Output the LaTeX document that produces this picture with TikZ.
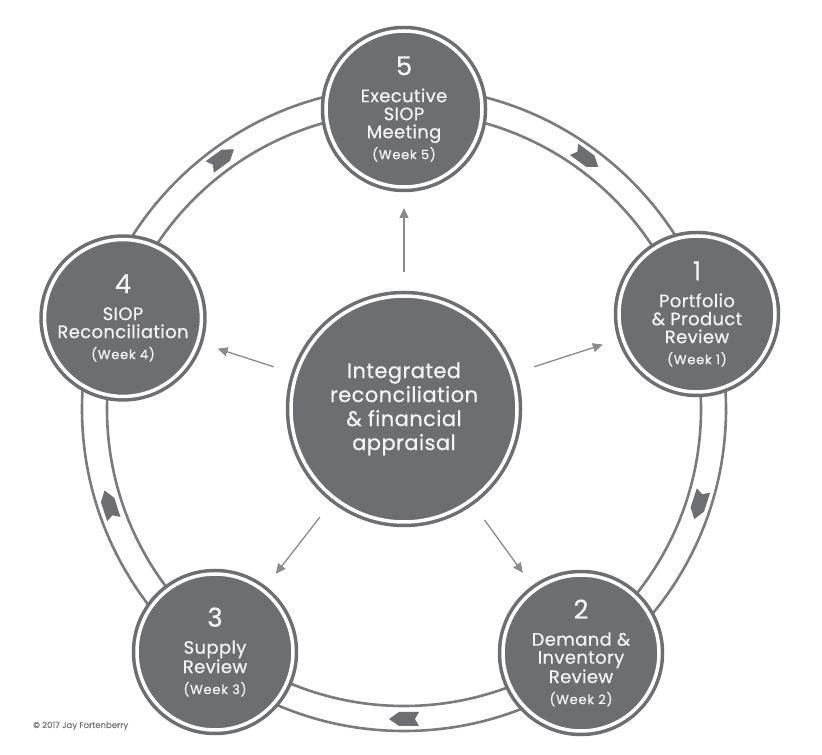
\documentclass[tikz,border=0pt]{standalone}
\usepackage{fontspec}
\setmainfont{Poppins}[FakeBold=0.6]
\usetikzlibrary{arrows.meta,calc}
\definecolor{nodegray}{HTML}{6D6E71}
\definecolor{ringgray}{HTML}{7A7B7E}
\definecolor{spokegray}{HTML}{8A8B8D}
\definecolor{textwhite}{HTML}{F4F4F4}
\definecolor{copygray}{HTML}{7A7A7A}
\tikzset{
  disk/.style={circle, fill=nodegray, draw=nodegray, line width=3.5pt, double=white,
    double distance=3.5pt, outer sep=0pt, inner sep=0pt, text=textwhite, align=center},
  stage/.style={disk, minimum size=156pt, font=\fontsize{18}{18}\selectfont\addfontfeatures{LetterSpace=2}},
  hub/.style={disk, minimum size=226pt, font=\fontsize{21}{24}\selectfont\addfontfeatures{LetterSpace=2}},
  ringline/.style={draw=ringgray, line width=2.6pt},
  spoke/.style={draw=spokegray, line width=1.3pt, -{Triangle[length=10pt,width=9pt]},
    shorten <=24pt, shorten >=21pt},
  ringarrow/.pic={\fill[nodegray] (15,0) -- (5,7) -- (-15,7) -- (-11,0) -- (-15,-7) -- (5,-7) -- cycle;},
}
\newcommand{\stagetext}[3]{{\fontsize{26}{26}\selectfont #1}\\[9pt]#2\\[3pt]{\fontsize{13}{13}\selectfont\addfontfeatures{LetterSpace=6}#3}}
\begin{document}
\begin{tikzpicture}[x=1pt,y=1pt]
  \fill[white] (0,0) rectangle (822,755);
  \useasboundingbox (0,0) rectangle (822,755);
  \coordinate (O) at (404,346);
  \draw[ringline] (O) circle[radius=297pt];
  \draw[ringline] (O) circle[radius=322pt];
  \begin{scope}[shift={(404,346)}]
    \pic[rotate=-36] at (54:310) {ringarrow};
    \pic[rotate=-108] at (-18:310) {ringarrow};
    \pic[rotate=-180] at (-90:310) {ringarrow};
    \pic[rotate=108] at (198:310) {ringarrow};
    \pic[rotate=36] at (126:310) {ringarrow};
  \end{scope}
  \node[hub] (hub) at (O) {Integrated\\reconciliation\\\& financial\\appraisal};
  \node[stage] (s5) at (404,646) {\stagetext{5}{Executive\\SIOP\\Meeting}{(Week 5)}};
  \node[stage] (s1) at (697,441) {\stagetext{1}{Portfolio\\\& Product\\Review}{(Week 1)}};
  \node[stage] (s2) at (581,102) {\stagetext{2}{Demand \&\\Inventory\\Review}{(Week 2)}};
  \node[stage] (s3) at (215,103) {\stagetext{3}{Supply\\Review}{(Week 3)}};
  \node[stage] (s4) at (123,437) {\stagetext{4}{SIOP\\Reconciliation}{(Week 4)}};
  \draw[spoke] (hub) -- (s5);
  \draw[spoke] (hub) -- (s1);
  \draw[spoke] (hub) -- (s2);
  \draw[spoke] (hub) -- (s3);
  \draw[spoke] (hub) -- (s4);
  \node[anchor=base west, font=\fontsize{8.5}{10}\selectfont, text=copygray, inner sep=0pt] (copy) at (33,27) {© 2017 Jay Fortenberry};
\end{tikzpicture}
\end{document}
